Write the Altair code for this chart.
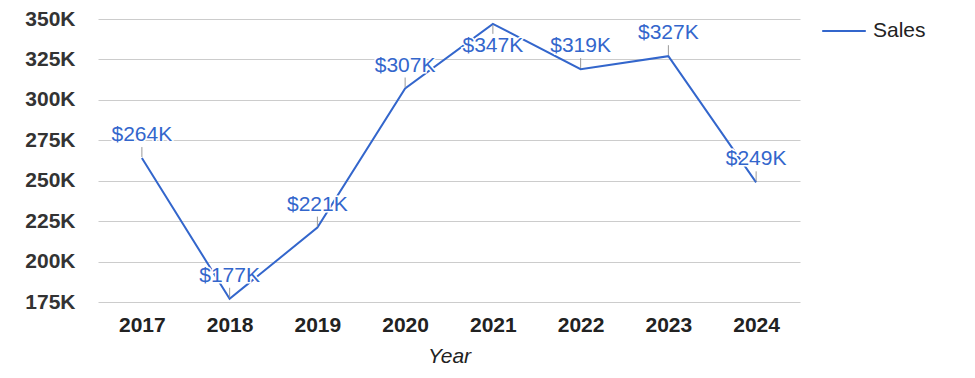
import altair as alt
import pandas as pd

years = ["2017", "2018", "2019", "2020", "2021", "2022", "2023", "2024"]
sales = [264000, 177000, 221000, 307000, 347000, 319000, 327000, 249000]
labels = ["$264K", "$177K", "$221K", "$307K", "$347K", "$319K", "$327K", "$249K"]
y_ticks = [175000, 200000, 225000, 250000, 275000, 300000, 325000, 350000]

df = pd.DataFrame({"Year": years, "value": sales, "label": labels, "series": ["Sales"] * len(years)})

FONT = "Liberation Sans"
BLUE = "#3366cc"

x = alt.X("Year:N", sort=years, scale=alt.Scale(type="point", padding=0.5),
          axis=alt.Axis(title="Year", titleFontStyle="italic", titleFontWeight="normal",
                        titleFontSize=21, titleColor="#222", titlePadding=10,
                        labelFontSize=21, labelFontWeight="bold", labelColor="#222",
                        labelAngle=0, ticks=False, domain=False, labelPadding=12,
                        grid=False))
y = alt.Y("value:Q", scale=alt.Scale(domain=[175000, 350000], nice=False, zero=False),
          axis=alt.Axis(title=None, values=y_ticks, labelExpr="datum.value/1000 + 'K'",
                        labelFontSize=21, labelFontWeight="bold", labelColor="#333",
                        ticks=False, domain=False, labelPadding=23,
                        gridColor="#cccccc", gridWidth=1))

base = alt.Chart(df).encode(x=x, y=y)

line = base.mark_line(strokeWidth=2).encode(
    color=alt.Color("series:N", scale=alt.Scale(range=[BLUE]),
                    legend=alt.Legend(title=None, orient="none", legendX=723, legendY=-11,
                                      symbolType="stroke",
                                      symbolSize=1900, symbolStrokeWidth=2,
                                      labelFontSize=21, labelColor="#222", labelFont=FONT,
                                      padding=0, labelOffset=6))
)

up = base.transform_filter("datum.value < 340000")
down = base.transform_filter("datum.value >= 340000")

tick_up = up.mark_rule(color="#999999", strokeWidth=1, yOffset=-11, y2Offset=-1).encode(y2=alt.Y2("value:Q"))
tick_down = down.mark_rule(color="#999999", strokeWidth=1, yOffset=1, y2Offset=10).encode(y2=alt.Y2("value:Q"))

def texts(b, dy):
    halo = b.mark_text(dy=dy, fontSize=21, font=FONT, stroke="white", strokeWidth=3,
                       fill="white", baseline="middle").encode(text="label:N")
    txt = b.mark_text(dy=dy, fontSize=21, font=FONT, color=BLUE,
                      baseline="middle").encode(text="label:N")
    return [halo, txt]

layers = [line, tick_up, tick_down] + texts(up, -23) + texts(down, 22)

chart = alt.layer(*layers).properties(
    width=702, height=283,
    autosize=alt.AutoSizeParams(type="none"),
    padding={"left": 98, "top": 19, "right": 175, "bottom": 76},
).configure(font=FONT).configure_view(stroke=None, strokeWidth=0)

chart.save("out.html", embed_options={"renderer": "svg", "actions": False})
